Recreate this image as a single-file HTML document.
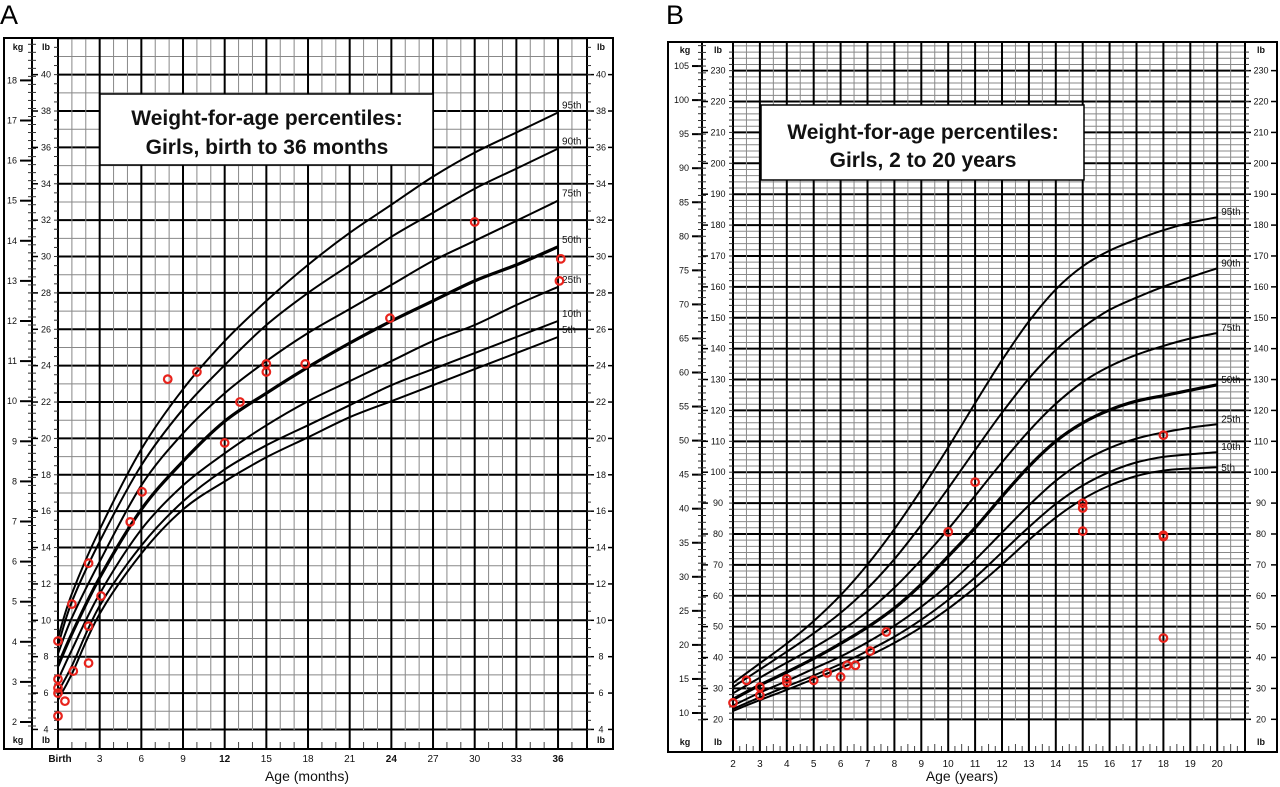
<!DOCTYPE html>
<html><head><meta charset="utf-8">
<style>
html,body{margin:0;padding:0;background:#fff;}
svg{display:block;font-family:"Liberation Sans",Arial,sans-serif;}
</style></head>
<body>
<svg id="s" width="1280" height="787" viewBox="0 0 1280 787" xmlns="http://www.w3.org/2000/svg">
<text x="0" y="24" font-size="27">A</text>
<text x="666" y="24" font-size="27">B</text>
</svg>
<script>
// ---- Chart A data (age months, weight kg) ----
const A_ages=[0,1,3,6,9,12,15,18,21,24,27,30,33,36];
const A_p5 =[2.55,3.2,4.7,6.2,7.3,8.0,8.6,9.1,9.6,10.0,10.4,10.8,11.2,11.6];
const A_p10=[2.75,3.4,4.9,6.4,7.5,8.3,8.9,9.4,9.9,10.4,10.8,11.2,11.6,12.0];
const A_p25=[3.05,3.8,5.2,6.8,7.9,8.7,9.4,10.0,10.5,11.0,11.5,11.9,12.4,12.85];
const A_p50=[3.4,4.2,5.6,7.3,8.5,9.5,10.2,10.85,11.45,12.0,12.5,13.0,13.4,13.85];
const A_p75=[3.7,4.6,6.0,7.9,9.2,10.2,11.0,11.7,12.3,12.9,13.5,14.0,14.5,15.0];
const A_p90=[3.9,5.0,6.5,8.4,9.8,10.9,11.9,12.7,13.4,14.1,14.7,15.3,15.8,16.3];
const A_p95=[4.1,5.2,6.8,8.8,10.3,11.5,12.5,13.4,14.2,14.9,15.6,16.2,16.7,17.2];
const A_ptAge=[0,0,0,0,0,0.5,1.1,1.0,2.2,2.2,2.2,3.1,5.2,6.05,7.9,10.0,12.0,13.1,15.0,15.0,17.8,23.9,30.0,36.2,36.1];
const A_ptKg =[4.02,3.07,2.85,2.72,2.15,2.52,3.27,4.94,3.47,4.39,5.96,5.14,6.99,7.74,10.55,10.73,8.96,9.98,10.93,10.73,10.93,12.07,14.47,13.55,13.0];
const A_tickLabels=["Birth","3","6","9","12","15","18","21","24","27","30","33","36"];
// ---- Chart B data (age years, weight kg) ----
const B_ages=[2,3,4,5,6,7,8,9,10,11,12,13,14,15,16,17,18,19,20];
const B_p5 =[10.3,11.9,13.4,15.0,16.6,18.3,20.3,22.6,25.3,28.4,31.8,35.4,38.7,41.4,43.4,44.8,45.6,45.9,46.1];
const B_p10=[10.6,12.3,13.9,15.5,17.2,19.1,21.2,23.7,26.6,29.9,33.6,37.3,40.7,43.4,45.4,46.8,47.6,48.0,48.3];
const B_p25=[11.1,13.0,14.7,16.5,18.3,20.4,22.8,25.6,28.8,32.5,36.5,40.5,44.1,46.9,48.9,50.3,51.2,51.9,52.4];
const B_p50=[12.0,14.1,16.0,18.0,20.2,22.6,25.4,28.9,33.0,37.2,41.8,46.2,49.9,52.6,54.5,55.8,56.6,57.4,58.2];
const B_p75=[12.9,15.2,17.4,19.6,22.0,24.9,28.4,32.5,37.0,41.9,46.8,51.4,55.4,58.6,60.9,62.6,63.9,65.0,65.8];
const B_p90=[13.8,16.4,19.0,21.7,24.7,28.3,32.6,37.6,43.0,48.6,54.1,59.1,63.3,66.6,69.2,71.0,72.6,74.0,75.3];
const B_p95=[14.4,17.3,20.2,23.5,27.3,31.8,37.0,42.8,49.0,55.5,61.8,67.5,72.2,75.6,77.9,79.5,80.9,82.0,82.8];
const B_ptAge=[2.0,2.5,3.0,3.0,4.0,4.0,5.0,5.5,6.0,6.24,6.55,7.1,7.7,10.0,11.0,15.0,15.0,15.0,18.0,18.0,18.0,18.0];
const B_ptKg =[11.5,14.8,13.8,12.6,15.0,14.5,14.8,15.9,15.3,17.0,17.0,19.1,21.9,36.6,43.9,40.8,40.1,36.7,50.8,36.1,35.9,21.0];
const B_tickLabels=["2","3","4","5","6","7","8","9","10","11","12","13","14","15","16","17","18","19","20"];
const pctNames=["5th","10th","25th","50th","75th","90th","95th"];

const svg=document.getElementById('s');
const NS='http://www.w3.org/2000/svg';
function mk(tag,attrs,parent){const e=document.createElementNS(NS,tag);for(const k in attrs)e.setAttribute(k,attrs[k]);(parent||svg).appendChild(e);return e;}
function line(g,x1,y1,x2,y2,c,w){return mk('line',{x1:x1,y1:y1,x2:x2,y2:y2,stroke:c,'stroke-width':w},g);}
function txt(g,x,y,s,size,anchor,bold){const t=mk('text',{x:x,y:y,'font-size':size,'text-anchor':anchor||'start','font-weight':bold?'bold':'normal',fill:'#111'},g);t.textContent=s;return t;}
function smoothPath(pts){let d='M'+pts[0][0].toFixed(1)+','+pts[0][1].toFixed(1);
 for(let i=0;i<pts.length-1;i++){const p0=pts[i-1]||pts[i],p1=pts[i],p2=pts[i+1],p3=pts[i+2]||p2;
  const c1=[p1[0]+(p2[0]-p0[0])/6,p1[1]+(p2[1]-p0[1])/6],c2=[p2[0]-(p3[0]-p1[0])/6,p2[1]-(p3[1]-p1[1])/6];
  d+=' C'+c1[0].toFixed(1)+','+c1[1].toFixed(1)+' '+c2[0].toFixed(1)+','+c2[1].toFixed(1)+' '+p2[0].toFixed(1)+','+p2[1].toFixed(1);}
 return d;}
const LB=0.45359237;

// ================= CHART A =================
(function(){
const x=m=>58+m*13.89, y=kg=>722-(kg-2)*40.1;
const g=mk('g',{});


const top=38,bot=749,strip=730,right=587;
// horizontal lb lines
for(let lb=4;lb<=42;lb++){const yy=y(lb*LB);if(yy<top)continue;
 if(lb%2===0)line(g,58,yy,right,yy,'#000',2);else line(g,58,yy,right,yy,'#888',1);}
// vertical month lines
for(let m=0;m<=37;m++){const xx=x(m);
 if(m%3===0)line(g,xx,top,xx,bot,'#000',2);else{line(g,xx,top,xx,strip,'#888',1);line(g,xx,742,xx,bot,'#444',1);}}
line(g,right,top,right,bot,'#000',2);
line(g,32,top,32,bot,'#000',2);
// kg axis
for(let k=2;k<=18;k++){line(g,20,y(k),32,y(k),'#000',2);txt(g,17,y(k)+3,String(k),9,'end');}
for(let k=1.9;k<=19;k+=0.2){line(g,28,y(k),36,y(k),'#333',1);}
// lb axis left/right
for(let lb=4;lb<=40;lb+=2){const yy=y(lb*LB);line(g,33,yy,38,yy,'#000',1.5);txt(g,46,yy+3,String(lb),9,'middle');
 line(g,right,yy,right+7,yy,'#000',1.5);txt(g,601,yy+3,String(lb),9,'middle');line(g,608,yy,613,yy,'#000',1.5);}
for(let lb=4;lb<=42;lb+=0.5){const yy=y(lb*LB);if(yy<top+4||yy>strip)continue;line(g,54,yy,58,yy,'#333',1);line(g,right,yy,right+4,yy,'#333',1);}
txt(g,18,50,'kg',9,'middle',true);txt(g,46,50,'lb',9,'middle',true);txt(g,601,50,'lb',9,'middle',true);
txt(g,18,743,'kg',9,'middle',true);txt(g,46,743,'lb',9,'middle',true);txt(g,601,743,'lb',9,'middle',true);
mk('rect',{x:4,y:top,width:609,height:bot-top,fill:'none',stroke:'#000','stroke-width':2},g);
// title
const tb=mk('rect',{x:100,y:94,width:333,height:71,fill:'#fff',stroke:'#000','stroke-width':1.5},g);

const t1=txt(g,267,125,'Weight-for-age percentiles:',21,'middle',true);

txt(g,267,154,'Girls, birth to 36 months',21,'middle',true);
// curves
const series=[A_p5,A_p10,A_p25,A_p50,A_p75,A_p90,A_p95];
series.forEach((s,i)=>{const pts=A_ages.map((a,j)=>[x(a),y(s[j])]);
 const p=mk('path',{d:smoothPath(pts),fill:'none',stroke:'#000','stroke-width':pctNames[i]==='50th'?3.2:2},g);
 
 const l=txt(g,x(36)+4,y(s[s.length-1])-4,pctNames[i],10,'start');
 });
// x labels
A_tickLabels.forEach((s,i)=>{const b=(s==='Birth'||s==='12'||s==='24'||s==='36');
 const t=txt(g,x(i*3)+(s==='Birth'?2:0),762,s,10,'middle',b);
 });
const at=txt(g,307,781,'Age (months)',14,'middle');

// points
A_ptAge.forEach((a,i)=>{const c=mk('circle',{cx:x(a),cy:y(A_ptKg[i]),r:3.8,fill:'none',stroke:'#e8231c','stroke-width':2.2},g);
 });
})();

// ================= CHART B =================
(function(){
const x=a=>733+(a-2)*26.9, y=kg=>713-(kg-10)*6.81;
const g=mk('g',{});


const top=42,bot=752,strip=720,right=1245;
for(let lb=20;lb<=238;lb+=2){const yy=y(lb*LB);if(yy<top)continue;
 if(lb%10===0)line(g,733,yy,right,yy,'#000',2);else line(g,733,yy,right,yy,'#888',1);}
for(let a=2;a<=20.5;a+=0.5){const xx=x(a);
 if(a%1===0)line(g,xx,top,xx,bot,'#000',2);else{line(g,xx,top,xx,strip,'#888',1);line(g,xx,744,xx,bot,'#444',1);}}
for(let a=2.25;a<21;a+=0.5){line(g,x(a),746,x(a),bot,'#444',1);}
line(g,right,top,right,bot,'#000',2);
line(g,702,top,702,bot,'#000',2);
line(g,733,top,733,bot,'#000',2);
for(let k=10;k<=105;k+=5){line(g,692,y(k),702,y(k),'#000',2);txt(g,689,y(k)+3,String(k),9,'end');}
for(let k=9;k<=108;k+=1){line(g,698,y(k),706,y(k),'#333',1);}
for(let lb=20;lb<=230;lb+=10){const yy=y(lb*LB);line(g,703,yy,708,yy,'#000',1.5);txt(g,718,yy+3,String(lb),9,'middle');
 line(g,right,yy,right+6,yy,'#000',1.5);txt(g,1261,yy+3,String(lb),9,'middle');line(g,1271,yy,1277,yy,'#000',1.5);}
for(let lb=20;lb<=238;lb+=2){const yy=y(lb*LB);if(yy<top+4)continue;line(g,729,yy,733,yy,'#333',1);line(g,right,yy,right+4,yy,'#333',1);}
txt(g,685,53,'kg',9,'middle',true);txt(g,718,53,'lb',9,'middle',true);txt(g,1261,53,'lb',9,'middle',true);
txt(g,685,745,'kg',9,'middle',true);txt(g,718,745,'lb',9,'middle',true);txt(g,1261,745,'lb',9,'middle',true);
mk('rect',{x:668,y:top,width:609,height:bot-top,fill:'none',stroke:'#000','stroke-width':2},g);
const tb=mk('rect',{x:761,y:105,width:323,height:75,fill:'#fff',stroke:'#000','stroke-width':1.5},g);

const t1=txt(g,923,139,'Weight-for-age percentiles:',21,'middle',true);

txt(g,923,167,'Girls, 2 to 20 years',21,'middle',true);
const series=[B_p5,B_p10,B_p25,B_p50,B_p75,B_p90,B_p95];
series.forEach((s,i)=>{const pts=B_ages.map((a,j)=>[x(a),y(s[j])]);
 const p=mk('path',{d:smoothPath(pts),fill:'none',stroke:'#000','stroke-width':pctNames[i]==='50th'?3.2:2},g);
 
 const l=txt(g,x(20)+4,y(s[s.length-1])+(i===0?4:-2),pctNames[i],10,'start');
 });
B_tickLabels.forEach((s,i)=>{const t=txt(g,x(i+2),767,s,10,'middle');
 });
const at=txt(g,962,781,'Age (years)',14,'middle');

B_ptAge.forEach((a,i)=>{const c=mk('circle',{cx:x(a),cy:y(B_ptKg[i]),r:3.8,fill:'none',stroke:'#e8231c','stroke-width':2.2},g);
 });
})();
</script>
</body></html>
